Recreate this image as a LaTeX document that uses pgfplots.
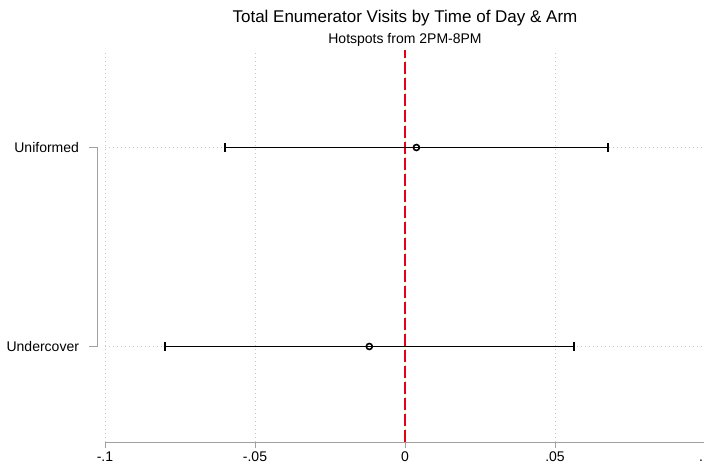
\documentclass[border=0pt]{standalone}
\usepackage{pgfplots}
\pgfplotsset{compat=1.18}
\usepackage{fontspec}
\setmainfont{Liberation Sans}
\definecolor{axgray}{RGB}{160,160,160}
\definecolor{gridgray}{RGB}{200,200,200}
\definecolor{zred}{RGB}{230,0,20}
\begin{document}
\begin{tikzpicture}
\begin{axis}[
  at={(105pt,27pt)}, anchor=south west,
  scale only axis, width=600pt, height=392pt,
  xmin=-0.1, xmax=0.1, ymin=0.52, ymax=2.49,
  clip=false,
  axis x line*=bottom, axis y line*=left,
  x axis line style={axgray, line width=0.9pt},
  y axis line style={draw=none},
  xtick={-0.1,-0.05,0,0.05,0.1},
  xticklabels={-.1,-.05,0,.05,.1},
  ytick={1,2},
  yticklabels={Undercover,Uniformed},
  tick align=outside,
  xtick style={axgray, line width=0.9pt},
  ytick style={draw=none},
  major tick length=6pt,
  xmajorgrids, ymajorgrids,
  grid style={gridgray, line width=0.8pt, dash pattern=on 0.8pt off 3.2pt},
  /pgf/number format/assume math mode=true,
  tick label style={font=\fontsize{14}{17}\selectfont, black},
  yticklabel style={xshift=-16.5pt},
]
\addplot[draw=zred, color=zred, line width=1.1pt, dash pattern=on 12pt off 4pt] coordinates {(0,0.52) (0,2.49)};
\addplot[black, line width=1.6pt, mark=o, mark size=3pt,
  mark options={fill=white, solid, line width=1.6pt}, only marks,
  error bars/.cd, x dir=both, x explicit,
  error bar style={line width=1.6pt, black, solid},
  error mark=|,
  error mark options={mark size=4.2pt, line width=1.6pt, black}]
  coordinates {(0.0038,2) +- (0.0639,0) (-0.0119,1) +- (0.0682,0)};
\draw[axgray, line width=0.9pt] ([xshift=-16pt]axis cs:-0.1,2) -- ([xshift=-8pt]axis cs:-0.1,2) -- ([xshift=-8pt]axis cs:-0.1,1) -- ([xshift=-16pt]axis cs:-0.1,1);
\end{axis}
\node[anchor=base, font=\fontsize{17}{20}\selectfont] at (405pt,446.5pt) {Total Enumerator Visits by Time of Day \& Arm};
\node[anchor=base, font=\fontsize{14}{17}\selectfont] at (405pt,425.5pt) {Hotspots from 2PM-8PM};
\pgfresetboundingbox
\useasboundingbox (0,0) rectangle (704pt,469pt);
\end{tikzpicture}
\end{document}
